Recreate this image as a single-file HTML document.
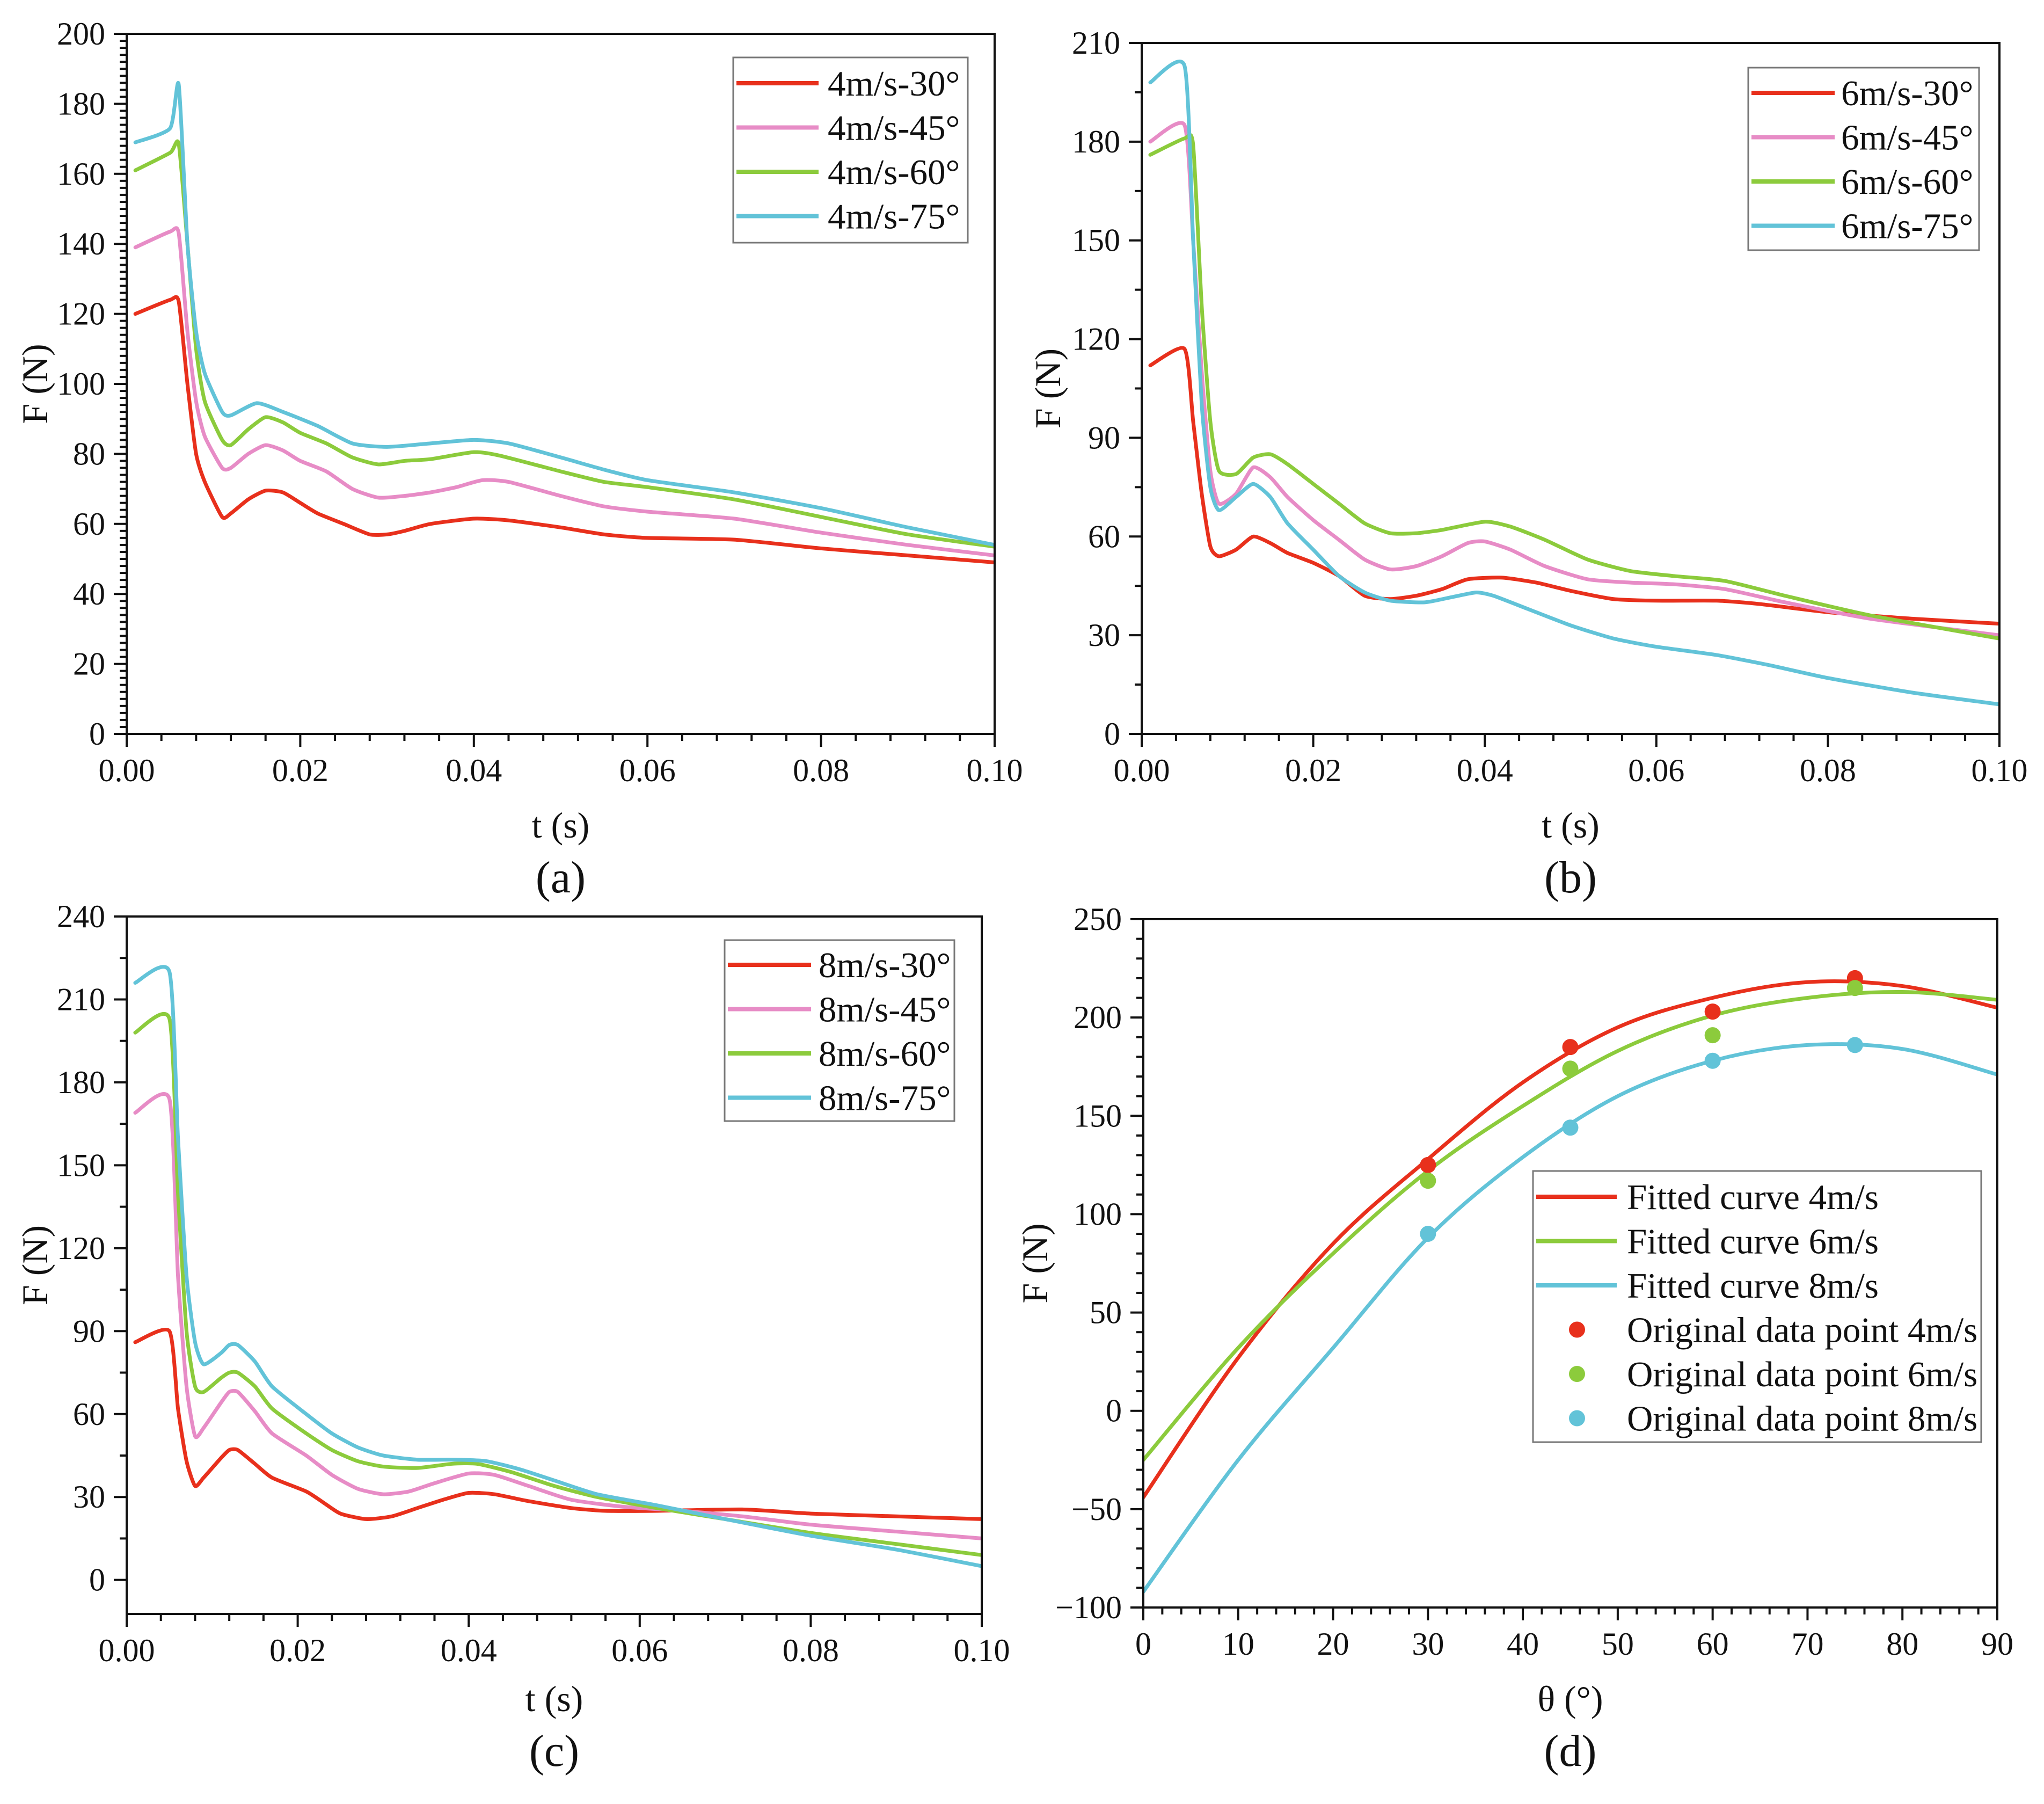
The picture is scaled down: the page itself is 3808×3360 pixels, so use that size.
<!DOCTYPE html>
<html><head><meta charset="utf-8"><style>
html,body{margin:0;padding:0;background:#fff;}
svg{display:block;font-family:"Liberation Serif",serif;}
</style></head><body>
<svg id="fig" width="3808" height="3360" viewBox="0 0 3808 3360" xmlns="http://www.w3.org/2000/svg"></svg>
<script>
// ---------- Panel (a) data: 4 m/s ----------
const tA30 = [0.001,0.005,0.006,0.007,0.008,0.009,0.011,0.012,0.014,0.016,0.018,0.020,0.022,0.025,0.028,0.030,0.032,0.035,0.040,0.044,0.050,0.055,0.060,0.070,0.080,0.090,0.100];
const fA30 = [120,124,123.5,100,80,72,62,63,67,69.5,69,66,63,60,57,57,58,60,61.5,61,59,57,56,55.5,53,51,49];
const tA45 = [0.001,0.005,0.006,0.007,0.008,0.009,0.011,0.012,0.014,0.016,0.018,0.020,0.023,0.026,0.029,0.032,0.035,0.038,0.041,0.044,0.050,0.055,0.060,0.070,0.080,0.090,0.100];
const fA45 = [139,143.5,143,115,95,85,76,76,80,82.5,81,78,75,70,67.5,68,69,70.5,72.5,72,68,65,63.5,61.5,57.5,54,51];
const tA60 = [0.001,0.005,0.006,0.007,0.008,0.009,0.011,0.012,0.014,0.016,0.018,0.020,0.023,0.026,0.029,0.032,0.035,0.040,0.043,0.050,0.055,0.060,0.070,0.080,0.090,0.100];
const fA60 = [161,166,168.5,140,110,95,84,82.5,87,90.5,89,86,83,79,77,78,78.5,80.5,79.5,75,72,70.5,67,62,57,53.5];
const tA75 = [0.001,0.005,0.006,0.007,0.008,0.009,0.011,0.012,0.015,0.018,0.022,0.026,0.030,0.035,0.040,0.044,0.050,0.055,0.060,0.070,0.080,0.090,0.100];
const fA75 = [169,173,185.5,140,115,103,92,91,94.5,92,88,83,82,83,84,83,79,75.5,72.5,69,64.5,59,54];
// ---------- Panel (b) data: 6 m/s ----------
const tB30 = [0.001,0.005,0.006,0.007,0.008,0.009,0.011,0.013,0.015,0.017,0.020,0.023,0.026,0.029,0.032,0.035,0.038,0.042,0.046,0.050,0.055,0.060,0.067,0.072,0.080,0.090,0.100];
const fB30 = [112,117,95,73,57,54,56,60,58,55,52,48,42,41,42,44,47,47.5,46,43.5,41,40.5,40.5,39.5,37,35,33.5];
const tB45 = [0.001,0.005,0.006,0.007,0.008,0.009,0.011,0.013,0.015,0.017,0.020,0.023,0.026,0.029,0.032,0.035,0.038,0.040,0.043,0.047,0.052,0.057,0.062,0.068,0.075,0.085,0.100];
const fB45 = [180,185,150,110,80,70,73,81,78,72,65,59,53,50,51,54,58,58.5,56,51,47,46,45.5,44,40,35,30];
const tB60 = [0.001,0.005,0.006,0.007,0.008,0.009,0.011,0.013,0.015,0.017,0.020,0.023,0.026,0.029,0.032,0.035,0.040,0.043,0.047,0.052,0.057,0.062,0.068,0.075,0.085,0.100];
const fB60 = [176,181,179,130,95,80,79,84,85,82,76,70,64,61,61,62,64.5,63,59,53,49.5,48,46.5,42,36,29];
const tB75 = [0.001,0.005,0.006,0.007,0.008,0.009,0.011,0.013,0.015,0.017,0.020,0.023,0.026,0.029,0.033,0.036,0.039,0.041,0.045,0.050,0.055,0.060,0.067,0.073,0.080,0.090,0.100];
const fB75 = [198,203,150,100,75,68,72,76,72,64,56,48,43,40.5,40,41.5,43,42,38,33,29,26.5,24,21,17,12.5,9];
// ---------- Panel (c) data: 8 m/s ----------
const tC30 = [0.001,0.005,0.006,0.007,0.008,0.009,0.011,0.012,0.013,0.015,0.017,0.021,0.023,0.025,0.028,0.031,0.034,0.037,0.040,0.043,0.047,0.052,0.056,0.062,0.072,0.080,0.090,0.100];
const fC30 = [86,90,62,43,34,37,44,47,47,42,37,32,28,24,22,23,26,29,31.5,31,28.5,26,25,25,25.5,24,23,22];
const tC45 = [0.001,0.005,0.006,0.007,0.008,0.009,0.011,0.012,0.013,0.015,0.017,0.021,0.024,0.027,0.030,0.033,0.036,0.040,0.043,0.047,0.052,0.058,0.065,0.072,0.080,0.090,0.100];
const fC45 = [169,174,110,70,52,55,64,68,68,61,53,45,38,33,31,32,35,38.5,38,34,29,26.5,25,23,20,17.5,15];
const tC60 = [0.001,0.005,0.006,0.007,0.008,0.009,0.011,0.012,0.013,0.015,0.017,0.021,0.024,0.027,0.030,0.034,0.038,0.041,0.045,0.050,0.055,0.062,0.070,0.080,0.090,0.100];
const fC60 = [198,203,140,90,70,68,73,75,75,70,62,53,47,43,41,40.5,42,42,39,34,30,26,22,17,13,9];
const tC75 = [0.001,0.005,0.006,0.007,0.008,0.009,0.011,0.012,0.013,0.015,0.017,0.021,0.024,0.027,0.030,0.034,0.038,0.042,0.046,0.050,0.055,0.062,0.070,0.080,0.090,0.100];
const fC75 = [216,220,160,110,86,78,82,85,85,79,70,60,53,48,45,43.5,43.5,43,40,36,31,27,22,16,11,5];
// ---------- Panel (d) data ----------
const thetaFit = [0,10,20,30,40,50,60,70,80,90];
const fit4 = [-44,27,85,128,167,195,210,218,216,205];
const fit6 = [-25,32,80,122,155,183,201,210,213,209];
const fit8 = [-92,-25,32,88,129,160,178,186,184,171];
const thetaPts = [30,45,60,75];
const pts4 = [125,185,203,220];
const pts6 = [117,174,191,215];
const pts8 = [90,144,178,186];

const RED="#e8301c", PINK="#e78cc6", GREEN="#8ccb3c", CYAN="#62c3d8";
const NS="http://www.w3.org/2000/svg";
const svg=document.getElementById('fig');
function el(tag,attrs,parent,txt){const e=document.createElementNS(NS,tag);for(const k in attrs)e.setAttribute(k,attrs[k]);if(txt!==undefined)e.textContent=txt;(parent||svg).appendChild(e);return e;}

function panel(cfg){
  const g=el('g',{});
  
  
  const {L,R,T,B,xmin,xmax,ymin,ymax}=cfg;
  const sx=v=>L+(v-xmin)/(xmax-xmin)*(R-L);
  const sy=v=>B-(v-ymin)/(ymax-ymin)*(B-T);
  const cid='clip-'+cfg.name;
  const cp=el('clipPath',{id:cid},g);el('rect',{x:L,y:T,width:R-L,height:B-T},cp);
  const sg=el('g',{'clip-path':'url(#'+cid+')'},g);
  cfg.series.forEach(s=>{
    const p=s.x.map((v,i)=>[sx(v),sy(s.y[i])]);
    const k=s.smooth?6:10;
    let d='M'+p[0][0]+','+p[0][1];
    for(let i=0;i<p.length-1;i++){
      const p0=p[Math.max(0,i-1)],p1=p[i],p2=p[i+1],p3=p[Math.min(p.length-1,i+2)];
      d+=' C'+(p1[0]+(p2[0]-p0[0])/k)+','+(p1[1]+(p2[1]-p0[1])/k)+' '+(p2[0]-(p3[0]-p1[0])/k)+','+(p2[1]-(p3[1]-p1[1])/k)+' '+p2[0]+','+p2[1];
    }
    const path=el('path',{d:d,fill:'none',stroke:s.color,'stroke-width':7,'stroke-linejoin':'round','stroke-linecap':'round'},sg);
    
    
  });
  (cfg.points||[]).forEach(s=>{
    s.x.forEach((v,i)=>{
      const c=el('circle',{cx:sx(v),cy:sy(s.y[i]),r:15,fill:s.color},g);
      
      
    });
  });
  const fr=el('rect',{x:L,y:T,width:R-L,height:B-T,fill:'none',stroke:'#111','stroke-width':4},g);
  
  
  const xt=cfg.xTicks, nxm=cfg.xMinorN;
  for(let i=0;i<xt.length;i++){
    const x=sx(xt[i]);
    el('line',{x1:x,y1:B,x2:x,y2:B+24,stroke:'#111','stroke-width':4},g);
    const t=el('text',{x:x,y:B+88,'font-size':60,'text-anchor':'middle',fill:'#111'},g,cfg.xLabels[i]);
    
    
    if(i<xt.length-1){for(let k=1;k<nxm;k++){const xm=sx(xt[i]+(xt[i+1]-xt[i])*k/nxm);el('line',{x1:xm,y1:B,x2:xm,y2:B+13,stroke:'#111','stroke-width':4},g);}}
  }
  const yt=cfg.yTicks, nym=cfg.yMinorN;
  for(let i=0;i<yt.length;i++){
    const y=sy(yt[i]);
    el('line',{x1:L,y1:y,x2:L-24,y2:y,stroke:'#111','stroke-width':4},g);
    const t=el('text',{x:L-40,y:y+20,'font-size':60,'text-anchor':'end',fill:'#111'},g,cfg.yLabels[i]);
    
    
    if(i<yt.length-1){for(let k=1;k<nym;k++){const ym=sy(yt[i]+(yt[i+1]-yt[i])*k/nym);el('line',{x1:L,y1:ym,x2:L-13,y2:ym,stroke:'#111','stroke-width':4},g);}}
  }
  if(cfg.yExtraMinor){
    for(let k=1;k<nym;k++){const v=yt[0]-(yt[1]-yt[0])*k/nym;if(v<ymin)break;const ym=sy(v);el('line',{x1:L,y1:ym,x2:L-13,y2:ym,stroke:'#111','stroke-width':4},g);}
  }
  const xtit=el('text',{x:(L+R)/2,y:cfg.xTitleY,'font-size':68,'text-anchor':'middle',fill:'#111'},g,cfg.xTitle);
  
  
  const ytit=el('text',{x:0,y:0,'font-size':68,'text-anchor':'middle',fill:'#111',transform:'translate('+cfg.yTitleX+','+((T+B)/2)+') rotate(-90)'},g,'F (N)');
  
  
  const pl=el('text',{x:(L+R)/2,y:cfg.xTitleY+102,'font-size':84,'text-anchor':'middle',fill:'#111'},g,cfg.label);
  
  
  const lg=cfg.legend;
  const lgg=el('g',{},g);
  
  
  el('rect',{x:lg.x,y:lg.y,width:lg.w,height:lg.h,fill:'#fff',stroke:'#777','stroke-width':3},lgg);
  lg.items.forEach((it,i)=>{
    const yy=lg.y0+i*lg.dy;
    const eg=el('g',{},lgg);
    
    
    if(it.dot) el('circle',{cx:lg.dotX,cy:yy,r:15,fill:it.color},eg);
    else el('line',{x1:lg.lx1,y1:yy,x2:lg.lx2,y2:yy,stroke:it.color,'stroke-width':8},eg);
    el('text',{x:lg.tx,y:yy+23,'font-size':67,fill:'#111'},eg,it.label);
  });
}

const tTicks=[0,0.02,0.04,0.06,0.08,0.10];
const tLabels=['0.00','0.02','0.04','0.06','0.08','0.10'];

panel({name:'panel-a',L:236,R:1853,T:63,B:1367,xmin:0,xmax:0.1,ymin:0,ymax:200,
  xTicks:tTicks,xLabels:tLabels,xMinorN:5,
  yTicks:[0,20,40,60,80,100,120,140,160,180,200],yLabels:['0','20','40','60','80','100','120','140','160','180','200'],yMinorN:10,
  xTitle:'t (s)',xTitleY:1560,yTitleX:88,label:'(a)',
  series:[{name:'line-4ms-30',x:tA30,y:fA30,color:RED},{name:'line-4ms-45',x:tA45,y:fA45,color:PINK},{name:'line-4ms-60',x:tA60,y:fA60,color:GREEN},{name:'line-4ms-75',x:tA75,y:fA75,color:CYAN}],
  legend:{x:1366,y:107,w:437,h:345,y0:155,dy:82.5,lx1:1372,lx2:1525,tx:1542,items:[{label:'4m/s-30°',color:RED},{label:'4m/s-45°',color:PINK},{label:'4m/s-60°',color:GREEN},{label:'4m/s-75°',color:CYAN}]}
});
panel({name:'panel-b',L:2127,R:3725,T:80,B:1367,xmin:0,xmax:0.1,ymin:0,ymax:210,
  xTicks:tTicks,xLabels:tLabels,xMinorN:5,
  yTicks:[0,30,60,90,120,150,180,210],yLabels:['0','30','60','90','120','150','180','210'],yMinorN:2,
  xTitle:'t (s)',xTitleY:1560,yTitleX:1975,label:'(b)',
  series:[{name:'line-6ms-30',x:tB30,y:fB30,color:RED},{name:'line-6ms-45',x:tB45,y:fB45,color:PINK},{name:'line-6ms-60',x:tB60,y:fB60,color:GREEN},{name:'line-6ms-75',x:tB75,y:fB75,color:CYAN}],
  legend:{x:3257,y:126,w:430,h:340,y0:173,dy:82.5,lx1:3263,lx2:3418,tx:3430,items:[{label:'6m/s-30°',color:RED},{label:'6m/s-45°',color:PINK},{label:'6m/s-60°',color:GREEN},{label:'6m/s-75°',color:CYAN}]}
});
panel({name:'panel-c',L:236,R:1829,T:1707,B:3006,xmin:0,xmax:0.1,ymin:-12.3,ymax:240,
  xTicks:tTicks,xLabels:tLabels,xMinorN:5,
  yTicks:[0,30,60,90,120,150,180,210,240],yLabels:['0','30','60','90','120','150','180','210','240'],yMinorN:2,yExtraMinor:true,
  xTitle:'t (s)',xTitleY:3187,yTitleX:88,label:'(c)',
  series:[{name:'line-8ms-30',x:tC30,y:fC30,color:RED},{name:'line-8ms-45',x:tC45,y:fC45,color:PINK},{name:'line-8ms-60',x:tC60,y:fC60,color:GREEN},{name:'line-8ms-75',x:tC75,y:fC75,color:CYAN}],
  legend:{x:1350,y:1751,w:428,h:337,y0:1797,dy:82.5,lx1:1356,lx2:1511,tx:1525,items:[{label:'8m/s-30°',color:RED},{label:'8m/s-45°',color:PINK},{label:'8m/s-60°',color:GREEN},{label:'8m/s-75°',color:CYAN}]}
});
panel({name:'panel-d',L:2130,R:3721,T:1712,B:2994,xmin:0,xmax:90,ymin:-100,ymax:250,
  xTicks:[0,10,20,30,40,50,60,70,80,90],xLabels:['0','10','20','30','40','50','60','70','80','90'],xMinorN:5,
  yTicks:[-100,-50,0,50,100,150,200,250],yLabels:['\u2212100','\u221250','0','50','100','150','200','250'],yMinorN:5,
  xTitle:'\u03b8 (\u00b0)',xTitleY:3187,yTitleX:1951,label:'(d)',
  series:[{name:'fit-4ms',x:thetaFit,y:fit4,color:RED,smooth:true},{name:'fit-6ms',x:thetaFit,y:fit6,color:GREEN,smooth:true},{name:'fit-8ms',x:thetaFit,y:fit8,color:CYAN,smooth:true}],
  points:[{name:'point-4ms',x:thetaPts,y:pts4,color:RED},{name:'point-6ms',x:thetaPts,y:pts6,color:GREEN},{name:'point-8ms',x:thetaPts,y:pts8,color:CYAN}],
  legend:{x:2856,y:2181,w:835,h:505,y0:2229,dy:82.5,lx1:2862,lx2:3012,dotX:2938,tx:3031,items:[{label:'Fitted curve 4m/s',color:RED},{label:'Fitted curve 6m/s',color:GREEN},{label:'Fitted curve 8m/s',color:CYAN},{label:'Original data point 4m/s',color:RED,dot:true},{label:'Original data point 6m/s',color:GREEN,dot:true},{label:'Original data point 8m/s',color:CYAN,dot:true}]}
});
</script>
</body></html>
